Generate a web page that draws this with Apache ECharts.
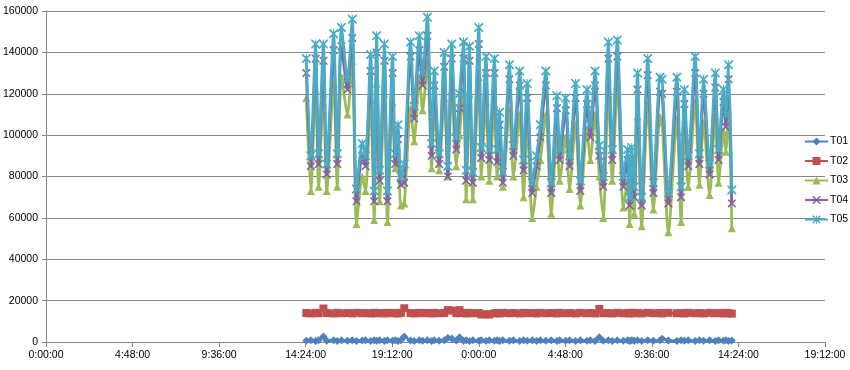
<!DOCTYPE html>
<html>
<head>
<meta charset="utf-8">
<script src="https://cdn.jsdelivr.net/npm/echarts@6/dist/echarts.min.js"></script>
<style>
html,body{margin:0;padding:0;background:#fff;}
#chart{width:850px;height:370px;}
</style>
</head>
<body>
<div id="chart"></div>
<script>
// x tick labels (every 4:48:00 = 288 minutes)
const xTickLabels = ['0:00:00','4:48:00','9:36:00','14:24:00','19:12:00','0:00:00','4:48:00','9:36:00','14:24:00','19:12:00'];
const seriesNames = ['T01','T02','T03','T04','T05'];
// sample times in minutes from first day 0:00:00
const sampleMinutes = [866,881,897,907,923,934,957,969,983,1003,
1019,1033,1052,1063,1080,1092,1100,1110,1126,1136,
1153,1162,1171,1181,1192,1213,1225,1242,1253,1269,
1283,1292,1308,1325,1337,1350,1365,1376,1389,1398,
1409,1420,1440,1448,1464,1475,1492,1501,1509,1520,
1542,1555,1576,1589,1601,1618,1632,1645,1663,1681,
1700,1709,1729,1742,1762,1778,1800,1811,1827,1841,
1854,1871,1884,1901,1921,1935,1942,1949,1957,1968,
1982,2002,2021,2043,2050,2071,2099,2113,2124,2137,
2160,2174,2188,2208,2227,2238,2254,2262,2271,2282];

const t01 = [600,900,500,800,2700,600,900,500,800,600,
900,500,700,900,500,800,600,900,500,800,
600,900,500,800,2600,700,500,900,600,800,
500,900,600,800,1900,1700,700,2300,600,900,
500,800,600,900,500,800,600,900,500,800,
600,900,500,800,600,900,500,800,600,900,
500,800,600,900,500,800,600,900,500,2300,
600,900,500,800,600,900,500,800,600,900,
500,800,600,900,1600,700,500,900,600,800,
500,900,600,800,500,900,600,800,500,700];

const t02 = [14000,13800,14100,13900,16200,14000,13800,14100,13900,14000,
13800,14100,13900,14000,13800,14100,13900,14000,13800,14100,
13900,14000,13800,14100,16300,14000,13800,14100,13900,14000,
13800,14100,13900,14000,15400,15200,13900,15400,14000,13800,
14100,13900,14000,13300,13400,13300,13900,14000,13800,14100,
13900,14000,13800,14100,13900,14000,13800,14100,13900,14000,
13800,14100,13900,14000,13800,14100,13900,14000,13800,16000,
13900,14000,13800,14100,13900,14000,13800,14100,13900,14000,
13800,14100,13900,14000,13800,14100,13900,14000,13800,14100,
13900,14000,13800,14100,13900,14000,13800,14100,13900,13700];

const t03 = [118000,73000,122000,75000,120000,73000,125000,75000,128000,110000,
136000,57000,80000,73000,117000,59000,125000,68000,120000,58000,
116000,84000,88000,66000,67000,113000,97000,128000,112000,135000,
84000,112000,83000,118000,80000,122000,85000,100000,122000,69000,
120000,69000,128000,80000,116000,78000,115000,80000,94000,75000,
112000,80000,110000,70000,105000,60000,75000,88000,110000,62000,
100000,78000,99000,74000,105000,66000,103000,88000,110000,80000,
60000,122000,78000,124000,65000,78000,57000,79000,62000,109000,
56000,115000,64000,109000,106000,53000,108000,58000,102000,75000,
116000,76000,106000,71000,109000,77000,102000,92000,112000,55000];

const t04 = [130000,85000,137000,86000,136000,81000,141000,86000,143000,122000,
147000,68000,90000,85000,131000,68000,140000,78000,136000,68000,
130000,86000,98000,76000,77000,138000,108000,141000,124000,148000,
90000,124000,86000,133000,80000,137000,93000,113000,137000,78000,
136000,77000,144000,89000,130000,88000,130000,87000,105000,77000,
127000,90000,124000,83000,118000,72000,85000,99000,124000,72000,
113000,88000,112000,85000,118000,73000,115000,99000,124000,90000,
75000,137000,88000,138000,75000,88000,66000,89000,70000,122000,
66000,129000,72000,121000,120000,67000,121000,70000,115000,85000,
130000,86000,120000,81000,123000,88000,116000,104000,127000,67000];

const t05 = [137000,90000,144000,91000,144000,86000,149000,91000,152000,127000,
156000,74000,96000,90000,139000,73000,148000,83000,144000,73000,
138000,91000,105000,80000,86000,145000,114000,148000,130000,157000,
96000,131000,91000,140000,85000,144000,99000,120000,145000,83000,
143000,82000,152000,94000,138000,93000,137000,93000,111000,82000,
134000,95000,131000,88000,125000,77000,90000,105000,131000,77000,
119000,93000,118000,90000,125000,78000,122000,105000,131000,95000,
80000,145000,93000,146000,80000,93000,70000,94000,75000,130000,
70000,137000,77000,128000,127000,72000,128000,75000,122000,90000,
138000,91000,127000,86000,130000,93000,122000,110000,134000,73500];

const seriesValues = [t01, t02, t03, t04, t05];
const colors = ['#4F81BD','#C0504D','#9BBB59','#8064A2','#4BACC6'];
const xPath = 'path://M0,0L1.4,0L5,3.6L8.6,0L10,0L10,1.4L6.4,5L10,8.6L10,10L8.6,10L5,6.4L1.4,10L0,10L0,8.6L3.6,5L0,1.4Z';
const starPath = 'path://M0,0L1.4,0L5,3.6L8.6,0L10,0L10,1.4L6.4,5L10,8.6L10,10L8.6,10L5,6.4L1.4,10L0,10L0,8.6L3.6,5L0,1.4Z M4.4,0L5.6,0L5.6,10L4.4,10Z';
const symbols = ['diamond','rect','triangle',xPath,starPath];
const symbolSizes = [8,8,8,8,9];

const chart = echarts.init(document.getElementById('chart'), null, {renderer:'canvas'});
const font = 'Liberation Sans';
chart.setOption({
  animation:false,
  backgroundColor:'#ffffff',
  color: colors,
  grid:{left:45, right:25, top:11, bottom:28, containLabel:false},
  legend:{
    orient:'vertical', left:799, top:131,
    itemWidth:23, itemHeight:10, itemGap:8.5,
    textStyle:{fontFamily:font, fontSize:10.5, color:'#000', padding:[0,0,0,-3]},
    data: seriesNames
  },
  xAxis:{
    type:'value', min:0, max:2592, interval:288,
    axisLine:{show:true, lineStyle:{color:'#868686', width:1}},
    axisTick:{show:true, length:5, lineStyle:{color:'#868686'}},
    splitLine:{show:false},
    axisLabel:{margin:8, fontFamily:font, fontSize:10.5, color:'#000',
      formatter:function(v){ return xTickLabels[Math.round(v/288)]; }}
  },
  yAxis:{
    type:'value', min:0, max:160000, interval:20000,
    axisLine:{show:true, lineStyle:{color:'#868686', width:1}},
    axisTick:{show:true, length:4, lineStyle:{color:'#868686'}},
    splitLine:{show:true, lineStyle:{color:'#868686', width:1}},
    axisLabel:{margin:8, fontFamily:font, fontSize:10.5, color:'#000',
      formatter:function(v){ return String(v); }}
  },
  series: seriesNames.map(function(name, k){
    return {
      name:name, type:'line',
      data: sampleMinutes.map(function(m,i){ return [m, seriesValues[k][i]]; }),
      symbol: symbols[k], symbolSize: symbolSizes[k], showSymbol:true,
      smooth:0.25,
      lineStyle:{width:2.75, color:colors[k]},
      itemStyle:{color:colors[k]},
      z: 2+k
    };
  })
});
</script>
</body>
</html>
